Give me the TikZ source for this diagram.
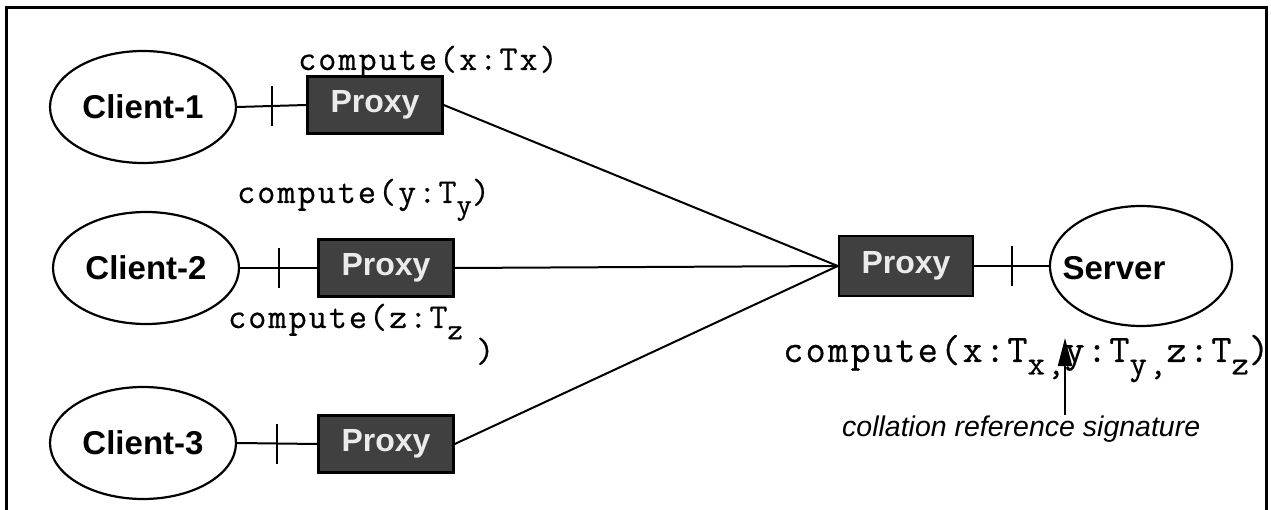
\documentclass[tikz,border=0pt]{standalone}
\usepackage{fontspec}
\setsansfont{Liberation Sans}
\newfontfamily\codefont{Latin Modern Mono}[LetterSpace=6, FakeBold=0.6]
\usetikzlibrary{arrows.meta,calc,shapes.geometric}
\newcommand\subtx[1]{\raisebox{-0.32em}{\fontsize{30}{31}\selectfont #1}}
\newcommand\subtxb[1]{\raisebox{-0.32em}{\fontsize{34}{35}\selectfont #1}}
\begin{document}
\begin{tikzpicture}[x=1pt,y=-1pt,
  client/.style={ellipse, draw=black, line width=2.2pt, minimum width=186pt, minimum height=112pt, inner sep=0pt,
    font=\sffamily\bfseries\fontsize{33}{36}\selectfont},
  proxybox/.style={rectangle, draw=black, line width=2.5pt, fill=black!75, minimum width=135pt, minimum height=57pt,
    inner sep=0pt, text=white!92!black, font=\sffamily\bfseries\fontsize{32}{34}\selectfont},
  wire/.style={line width=2pt},
  tickmark/.style={line width=2pt},
  code/.style={font=\codefont\fontsize{35}{38}\selectfont, inner sep=0pt, anchor=base west},
  codebig/.style={font=\codefont\fontsize{39}{42}\selectfont, inner sep=0pt, anchor=base west},
  note/.style={font=\sffamily\itshape\fontsize{28.5}{30}\selectfont, inner sep=0pt, anchor=base west}]
\useasboundingbox (0,0) rectangle (1271,510);
\fill[white] (0,0) rectangle (1271,510);
% frame
\draw[line width=3pt] (6,530) -- (6,8) -- (1266,8) -- (1266,530);

% clients and server
\node[client] (c1) at (143,107) {Client-1};
\node[client] (c2) at (146,268) {Client-2};
\node[client] (c3) at (143,443) {Client-3};
\node[client, minimum width=182pt, minimum height=120pt] (sv) at (1141,266) {};
\node[font=\sffamily\bfseries\fontsize{33}{36}\selectfont, inner sep=0pt] (svtext) at (1114,268) {Server};

% proxies
\node[proxybox] (p1) at (375,105) {Proxy};
\node[proxybox] (p2) at (386,268) {Proxy};
\node[proxybox] (p3) at (386,444) {Proxy};
\node[proxybox, minimum width=134pt, minimum height=60pt] (ps) at (906,266) {Proxy};

% connectors with ticks
\draw[wire] (c1.east) -- (p1.west);
\draw[wire] (c2.east) -- (p2.west);
\draw[wire] (c3.east) -- (p3.west);
\draw[wire] (ps.east) -- (sv.west);
\coordinate (t1) at ($(c1.east)!0.5!(p1.west)$);
\coordinate (t2) at ($(c2.east)!0.5!(p2.west)$);
\coordinate (t3) at ($(c3.east)!0.5!(p3.west)$);
\coordinate (t4) at ($(ps.east)!0.5!(sv.west)$);
\foreach \t in {t1,t2,t3,t4}
  \draw[tickmark] ($(\t)+(0,-20)$) -- ($(\t)+(0,20)$);

\draw[wire] (p1.east) -- (ps.west);
\draw[wire] (p2.east) -- (ps.west);
\draw[wire] (p3.east) -- (ps.west);

% labels
\node[code] (lx) at (298,70) {compute(x:Tx)};
\node[code] (ly) at (237,203) {compute(y:T\subtx{y})};
\node[code] (lz) at (228,328) {compute(z:T\subtx{z}};
\node[code] (lzp) at (476,362) {)};
\node[codebig] (ls) at (783,362) {compute(x:T\subtxb{x,}y:T\subtxb{y,}z:T\subtxb{z})};

\node[note] (coll) at (842,436) {collation reference signature};
\coordinate (atip) at (1065,338);
\draw[line width=2pt, -{Triangle[length=28pt,width=14pt]}] (coll.north -| atip) -- (atip);
\end{tikzpicture}
\end{document}
